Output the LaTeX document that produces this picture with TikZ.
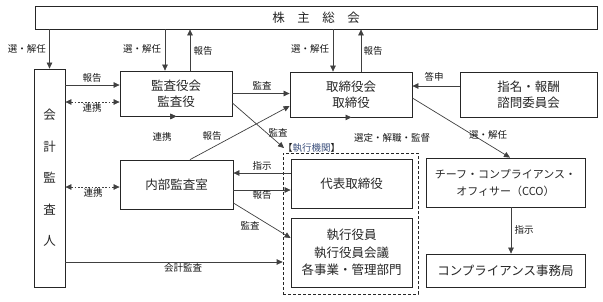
\documentclass[tikz,border=0pt]{standalone}
\usepackage{fontspec}
\setmainfont{Noto Sans CJK JP}
\usetikzlibrary{arrows.meta,calc}
\definecolor{execblue}{RGB}{60,80,125}
\begin{document}
\begin{tikzpicture}[x=1pt,y=-1pt,
  box/.style={draw=black!85, line width=0.8pt, fill=white, inner sep=0pt, align=center,
    font=\fontsize{12.5}{16}\selectfont, text=black!85},
  lbl/.style={font=\fontsize{9.5}{11}\selectfont, inner sep=0pt, text=black!90},
  tip/.tip={Triangle[length=6pt,width=5.5pt]},
  arr/.style={draw=black!75, line width=0.7pt, -tip},
  dbl/.style={draw=black!75, line width=0.7pt, dash pattern=on 1.8pt off 1.6pt, tip-tip},
]
\fill[white] (0,0) rectangle (603,301);
\useasboundingbox (0,0) rectangle (603,301);

% execution organ dashed frame
\node[draw=black!85, line width=0.7pt, dash pattern=on 3pt off 2pt, minimum width=135pt, minimum height=141pt, inner sep=0pt] (execbox) at (350.5,223.5) {};
\node[lbl, anchor=south west, font=\fontsize{9.5}{11}\selectfont] (execlbl) at (283,153) {【\textcolor{execblue}{執行機関}】};
\coordinate (execcorner) at (284,148);

% boxes
\node[box, minimum width=562pt, minimum height=23pt] (top) at (316,17.5) {株　主　総　会};
\node[box, minimum width=31pt, minimum height=218pt, font=\fontsize{12.5}{31.5}\selectfont] (kaikei) at (49.5,178) {会\\計\\監\\査\\人};
\node[box, minimum width=112pt, minimum height=45pt] (kansa) at (176,93.5) {監査役会\\監査役};
\node[box, minimum width=122pt, minimum height=45pt] (tori) at (351,94.5) {取締役会\\取締役};
\node[box, minimum width=137pt, minimum height=45pt] (shimei) at (528.5,94.5) {指名・報酬\\諮問委員会};
\node[box, minimum width=113pt, minimum height=49pt] (naibu) at (176.5,184.5) {内部監査室};
\node[box, minimum width=121pt, minimum height=49pt] (daihyo) at (351.5,183.5) {代表取締役};
\node[box, minimum width=121pt, minimum height=69pt, font=\fontsize{12.5}{17.5}\selectfont] (shikko) at (351.5,252.5) {執行役員\\執行役員会議\\各事業・管理部門};
\node[box, minimum width=159pt, minimum height=49pt, font=\fontsize{11}{17}\selectfont] (cco) at (505.5,182.5) {チーフ・コンプライアンス・\\オフィサー（CCO）};
\node[box, minimum width=159pt, minimum height=33pt] (jimu) at (505.5,270.5) {コンプライアンス事務局};

% shareholders meeting connectors
\draw[arr] (top.south -| kaikei.north) -- (kaikei.north);
\node[lbl] (l1) at (27,49) {選・解任};
\draw[arr] ([xshift=-11pt]kansa.north |- top.south) -- ([xshift=-11pt]kansa.north);
\node[lbl] (l2) at (142,49) {選・解任};
\draw[arr] ([xshift=14pt]kansa.north) -- ([xshift=14pt]kansa.north |- top.south);
\node[lbl] (l3) at (203,51) {報告};
\draw[arr] ([xshift=-18pt]tori.north |- top.south) -- ([xshift=-18pt]tori.north);
\node[lbl] (l4) at (310,49) {選・解任};
\draw[arr] ([xshift=10pt]tori.north) -- ([xshift=10pt]tori.north |- top.south);
\node[lbl] (l5) at (373,51) {報告};

% auditor connectors
\draw[arr] ([yshift=8.5pt]kansa.west -| kaikei.east) -- ([yshift=8.5pt]kansa.west);
\node[lbl] (l6) at (92,78) {報告};
\draw[dbl] ([yshift=-8.5pt]kansa.west -| kaikei.east) -- ([yshift=-8.5pt]kansa.west);
\node[lbl] (l7) at (92,108) {連携};
\draw[dbl] ([yshift=-2.5pt]naibu.west -| kaikei.east) -- ([yshift=-2.5pt]naibu.west);
\node[lbl] (l8) at (93,193) {連携};
\draw[arr] ([yshift=-84pt]kaikei.east) -- ([yshift=-84pt]kaikei.east -| execbox.west);
\node[lbl] (l9) at (183,268) {会計監査};

% kansa connectors
\draw[arr] (kansa.east) -- (kansa.east -| tori.west);
\node[lbl] (l10) at (262,86) {監査};
\draw[arr] ([yshift=-9.5pt]kansa.east) -- (execcorner);
\node[lbl] (l11) at (278,133) {監査};
\draw[dbl] (kansa.south) -- (kansa.south -| naibu.north);
\node[lbl] (l12) at (162,137) {連携};

% naibu connectors
\draw[arr] ([xshift=13.5pt]naibu.north) -- ([yshift=-11.5pt]tori.west);
\node[lbl] (l13) at (212,136) {報告};
\draw[arr] ([yshift=10.5pt]daihyo.west) -- ([yshift=10.5pt]daihyo.west -| naibu.east);
\node[lbl] (l14) at (262,166) {指示};
\draw[arr] ([yshift=-5.5pt]naibu.east) -- ([yshift=-5.5pt]naibu.east -| daihyo.west);
\node[lbl] (l15) at (262,195) {報告};
\draw[arr] ([yshift=-18.5pt]naibu.east) -- ([yshift=14.5pt]shikko.west);
\node[lbl] (l16) at (250,226) {監査};

% tori connectors
\draw[arr] (tori.south) -- (tori.south -| daihyo.north);
\node[lbl] (l17) at (392,138) {選定・解職・監督};
\draw[arr] ([yshift=8.5pt]shimei.west) -- ([yshift=8.5pt]shimei.west -| tori.east);
\node[lbl] (l18) at (434,77) {答申};
\draw[arr] ([yshift=-3.5pt]tori.east) -- ([xshift=4.5pt]cco.north);
\node[lbl] (l19) at (488,135) {選・解任};

% cco
\draw[arr] ([xshift=5.5pt]cco.south) -- ([xshift=5.5pt]jimu.north);
\node[lbl] (l20) at (524,230) {指示};
\end{tikzpicture}
\end{document}
